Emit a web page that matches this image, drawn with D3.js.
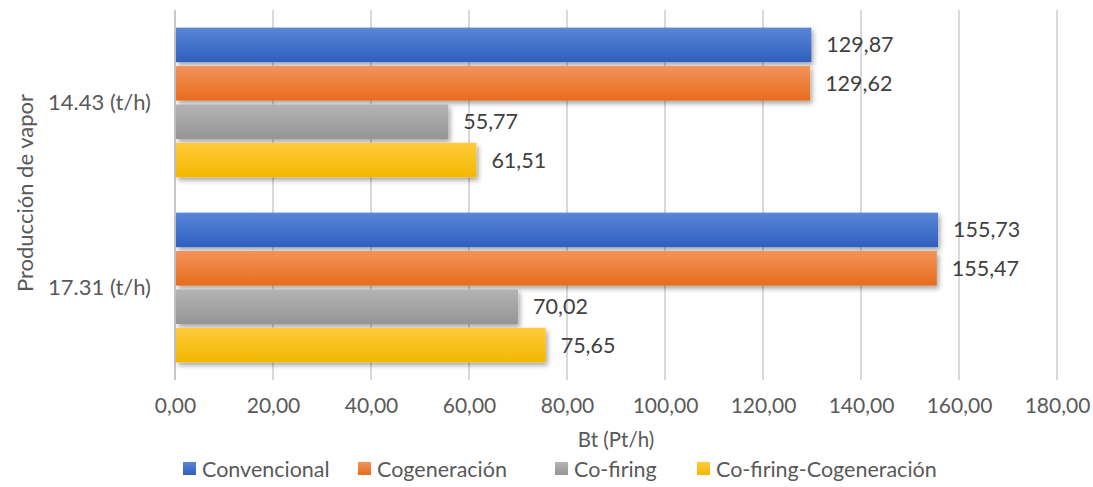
<!DOCTYPE html>
<html><head><meta charset="utf-8">
<script src="https://cdn.jsdelivr.net/npm/d3@7"></script>
<style>body{margin:0;background:#fff;} svg{display:block;font-family:Lato,"Open Sans",sans-serif;}</style>
</head><body>
<svg id="chart" width="1093" height="487"></svg>
<script>
const categories = ["14.43 (t/h)", "17.31 (t/h)"];
const seriesNames = ["Convencional", "Cogeneración", "Co-firing", "Co-firing-Cogeneración"];
const convencional = [129.87, 155.73];
const cogeneracion = [129.62, 155.47];
const cofiring = [55.77, 70.02];
const cofiringCogen = [61.51, 75.65];
const xTicks = [0, 20, 40, 60, 80, 100, 120, 140, 160, 180];
const colors = [["#5a86d8","#2f5fbd"],["#f3935a","#e86c1c"],["#b4b4b4","#959595"],["#ffcb3a","#f2b800"]];

const seriesValues = [convencional, cogeneracion, cofiring, cofiringCogen];
const svg = d3.select("#chart");
const m = {l:175, r:1057, t:10, b:380};
const x = d3.scaleLinear().domain([0,180]).range([m.l, m.r]);
const y0 = d3.scaleBand().domain(categories).range([m.t, m.b]).paddingInner(0.17).paddingOuter(0.085);
const y1 = d3.scaleBand().domain(seriesNames).range([0, y0.bandwidth()]).padding(0.1).paddingOuter(0.05);

const defs = svg.append("defs");
colors.forEach((c,i)=>{
  const g = defs.append("linearGradient").attr("id","g"+i).attr("x1",0).attr("y1",0).attr("x2",0).attr("y2",1);
  g.append("stop").attr("offset","0%").attr("stop-color",c[0]);
  g.append("stop").attr("offset","100%").attr("stop-color",c[1]);
});
const f = defs.append("filter").attr("id","sh").attr("x","-5%").attr("y","-30%").attr("width","115%").attr("height","170%");
f.append("feDropShadow").attr("dx",2).attr("dy",3).attr("stdDeviation",2.5).attr("flood-color","#000").attr("flood-opacity",0.35);

// gridlines
svg.append("g").selectAll("line").data(xTicks).join("line")
  .attr("x1",d=>x(d)).attr("x2",d=>x(d)).attr("y1",m.t).attr("y2",m.b)
  .attr("stroke",d=>d===0?"#c8c8c8":"#d9d9d9").attr("stroke-width",2);

// x axis labels
const xAxis = d3.axisBottom(x).tickValues(xTicks).tickSize(0).tickPadding(0)
  .tickFormat(d=>d3.format(".2f")(d).replace(".",","));
const gx = svg.append("g").attr("transform",`translate(0,${m.b+18})`).call(xAxis);
gx.select(".domain").remove();
gx.selectAll("text").attr("font-size",21).attr("fill","#595959").attr("font-family","Lato");

// y axis labels
const yAxis = d3.axisLeft(y0).tickSize(0).tickPadding(24);
const gy = svg.append("g").attr("transform",`translate(${m.l},0)`).call(yAxis);
gy.select(".domain").remove();
gy.selectAll("text").attr("font-size",22).attr("fill","#595959").attr("font-family","Lato");

// bars
const groups = svg.append("g").selectAll("g").data(categories).join("g")
  .attr("transform",d=>`translate(0,${y0(d)})`);
groups.each(function(cat,ci){
  const g = d3.select(this);
  seriesNames.forEach((s,si)=>{
    const v = seriesValues[si][ci];
    g.append("rect").attr("x",x(0)+1).attr("y",y1(s)).attr("width",x(v)-x(0)-1).attr("height",y1.bandwidth())
      .attr("fill",`url(#g${si})`).attr("filter","url(#sh)");
    g.append("text").attr("x",x(v)+15).attr("y",y1(s)+y1.bandwidth()/2).attr("dy","0.35em")
      .attr("font-size",21.5).attr("fill","#404040").text(d3.format(".2f")(v).replace(".",","));
  });
});

// axis titles
svg.append("text").attr("x",(m.l+m.r)/2).attr("y",447).attr("text-anchor","middle")
  .attr("font-size",20.5).attr("fill","#595959").text("Bt (Pt/h)");
svg.append("text").attr("transform",`translate(33,${(m.t+m.b)/2 - 2}) rotate(-90)`).attr("text-anchor","middle")
  .attr("font-size",22).attr("fill","#595959").text("Producción de vapor");

// legend
const legX = [183, 358, 555, 697];
const leg = svg.append("g").selectAll("g").data(seriesNames).join("g")
  .attr("transform",(d,i)=>`translate(${legX[i]},469)`);
leg.append("rect").attr("x",0).attr("y",-7).attr("width",13).attr("height",13).attr("fill",(d,i)=>`url(#g${i})`);
leg.append("text").attr("x",19).attr("y",0).attr("dy","0.35em").attr("font-size",21.5).attr("fill","#595959").text(d=>d);
</script>
</body></html>
